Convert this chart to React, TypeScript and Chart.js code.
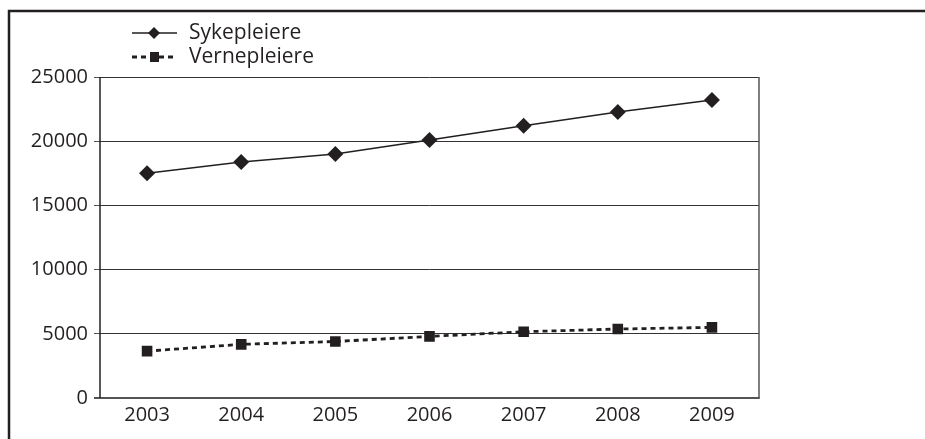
import React, { useEffect, useRef } from "react";
import { Chart, registerables } from "chart.js";

Chart.register(...registerables);

const years = ["2003", "2004", "2005", "2006", "2007", "2008", "2009"];
const sykepleiere = [17500, 18380, 19000, 20100, 21200, 22280, 23200];
const vernepleiere = [3650, 4180, 4400, 4800, 5160, 5370, 5500];
const yTicks = [0, 5000, 10000, 15000, 20000, 25000];

const FONT = "'Open Sans', 'DejaVu Sans', sans-serif";
const INK = "#231f20";

// Custom legend: short line sample with the series marker, label to the right
const lineLegend = {
  id: "lineLegend",
  afterDraw(chart: any) {
    const ctx = chart.ctx;
    const rows = [33, 57];
    chart.data.datasets.forEach((ds: any, i: number) => {
      const y = rows[i];
      ctx.save();
      ctx.strokeStyle = INK;
      ctx.lineWidth = ds.borderWidth;
      ctx.setLineDash(ds.borderDash || []);
      ctx.beginPath();
      ctx.moveTo(132, y);
      ctx.lineTo(177, y);
      ctx.stroke();
      ctx.setLineDash([]);
      ctx.fillStyle = INK;
      if (ds.pointStyle === "rectRot") {
        ctx.beginPath();
        ctx.moveTo(154, y - 6);
        ctx.lineTo(160, y);
        ctx.lineTo(154, y + 6);
        ctx.lineTo(148, y);
        ctx.closePath();
        ctx.fill();
      } else {
        ctx.fillRect(150, y - 5, 9, 10);
      }
      ctx.font = `21px ${FONT}`;
      ctx.textBaseline = "middle";
      ctx.textAlign = "left";
      ctx.fillText(ds.label, 189, y);
      ctx.restore();
    });
  },
};

// Outer frame and the plot box edges
const frame = {
  id: "frame",
  beforeDraw(chart: any) {
    const ctx = chart.ctx;
    ctx.save();
    ctx.fillStyle = "#fff";
    ctx.fillRect(0, 0, chart.width, chart.height);
    ctx.strokeStyle = INK;
    ctx.lineWidth = 2.5;
    ctx.beginPath();
    ctx.moveTo(9, chart.height + 5);
    ctx.lineTo(9, 11);
    ctx.lineTo(chart.width + 5, 11);
    ctx.stroke();
    ctx.restore();
  },
  afterDatasetsDraw(chart: any) {
    const { left, right, top, bottom } = chart.chartArea;
    const ctx = chart.ctx;
    ctx.save();
    ctx.strokeStyle = "#555";
    ctx.lineWidth = 1.5;
    ctx.beginPath();
    ctx.moveTo(right, top);
    ctx.lineTo(right, bottom);
    ctx.stroke();
    ctx.lineWidth = 2;
    ctx.beginPath();
    ctx.moveTo(left - 6, bottom);
    ctx.lineTo(right + 0.75, bottom);
    ctx.stroke();
    ctx.strokeStyle = INK;
    ctx.lineWidth = 1.5;
    ctx.beginPath();
    ctx.moveTo(left, top);
    ctx.lineTo(left, bottom);
    ctx.stroke();
    ctx.restore();
  },
};

export default function App() {
  const ref = useRef<HTMLCanvasElement>(null);

  useEffect(() => {
    if (!ref.current) return;
    const chart = new Chart(ref.current, {
      type: "line",
      data: {
        labels: years,
        datasets: [
          {
            label: "Sykepleiere",
            data: sykepleiere,
            borderColor: INK,
            backgroundColor: INK,
            borderWidth: 1.5,
            pointStyle: "rectRot",
            pointRadius: 8,
            pointBorderWidth: 0,
            tension: 0,
          },
          {
            label: "Vernepleiere",
            data: vernepleiere,
            borderColor: INK,
            backgroundColor: INK,
            borderWidth: 2.8,
            borderDash: [5, 4],
            pointStyle: "rect",
            pointRadius: 7.5,
            pointBorderWidth: 0,
            tension: 0,
          },
        ],
      },
      options: {
        responsive: false,
        animation: false,
        devicePixelRatio: 1,
        layout: { padding: { left: 0, top: 77, right: 166, bottom: 0 } },
        plugins: { legend: { display: false }, tooltip: { enabled: false } },
        scales: {
          x: {
            offset: true,
            grid: { display: false, drawTicks: false },
            border: { display: false },
            ticks: {
              padding: 5,
              color: INK,
              font: { family: FONT, size: 20 },
              maxRotation: 0,
            },
            afterFit(scale: any) {
              scale.height = 41;
            },
          },
          y: {
            min: 0,
            max: 25000,
            afterBuildTicks(scale: any) {
              scale.ticks = yTicks.map((v) => ({ value: v }));
            },
            grid: {
              color: "#333",
              lineWidth: 1,
              tickLength: 6,
              tickColor: "#555",
            },
            border: { display: false },
            ticks: {
              padding: 6,
              color: INK,
              font: { family: FONT, size: 20 },
              callback: (v: any) => String(v),
            },
            afterFit(scale: any) {
              scale.width = 100;
            },
          },
        },
      },
      plugins: [frame, lineLegend],
    });
    return () => chart.destroy();
  }, []);

  return (
    <div style={{ position: "fixed", left: 0, top: 0 }}>
      <canvas ref={ref} width={925} height={439} style={{ display: "block" }} />
    </div>
  );
}
